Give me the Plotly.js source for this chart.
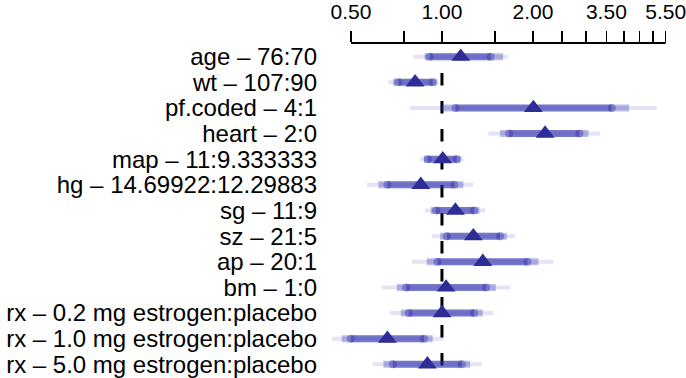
<!DOCTYPE html>
<html>
<head>
<meta charset="utf-8">
<script src="https://cdn.plot.ly/plotly-3.0.1.min.js"></script>
<style>html,body{margin:0;padding:0;background:#fff;}#chart{width:686px;height:378px;}</style>
</head>
<body>
<div id="chart"></div>
<script>
// Effect labels (top to bottom)
const labels = [
  "age – 76:70",
  "wt – 107:90",
  "pf.coded – 4:1",
  "heart – 2:0",
  "map – 11:9.333333",
  "hg – 14.69922:12.29883",
  "sg – 11:9",
  "sz – 21:5",
  "ap – 20:1",
  "bm – 1:0",
  "rx – 0.2 mg estrogen:placebo",
  "rx – 1.0 mg estrogen:placebo",
  "rx – 5.0 mg estrogen:placebo"
];
// Hazard ratio point estimates
const est  = [1.154, 0.815, 2.007, 2.194, 1.006, 0.851, 1.108, 1.270, 1.365, 1.032, 1.001, 0.660, 0.895];
// 0.90 confidence limits
const lo90 = [0.910, 0.717, 1.108, 1.668, 0.897, 0.660, 0.956, 1.037, 0.966, 0.761, 0.776, 0.499, 0.687];
const hi90 = [1.448, 0.932, 3.648, 2.850, 1.119, 1.099, 1.277, 1.557, 1.917, 1.400, 1.277, 0.872, 1.163];
// 0.95 confidence limits
const lo95 = [0.876, 0.689, 0.986, 1.557, 0.872, 0.616, 0.918, 0.986, 0.891, 0.709, 0.731, 0.466, 0.640];
const hi95 = [1.593, 0.961, 4.160, 3.052, 1.154, 1.177, 1.330, 1.639, 2.085, 1.507, 1.365, 0.932, 1.239];
// 0.99 confidence limits
const lo99 = [0.804, 0.665, 0.784, 1.424, 0.846, 0.564, 0.879, 0.925, 0.794, 0.632, 0.673, 0.433, 0.590];
const hi99 = [1.655, 0.973, 5.140, 3.337, 1.177, 1.270, 1.389, 1.746, 2.337, 1.680, 1.480, 1.011, 1.354];
// Axis ticks
const tickVals = [0.5, 0.75, 1, 1.5, 2, 2.5, 3, 3.5, 4, 4.5, 5, 5.5];
const tickText = ["0.50", "", "1.00", "", "2.00", "", "", "3.50", "", "", "", "5.50"];

const rows = labels.map((_, i) => i + 1);

function segs(lo, hi) {
  const x = [], y = [];
  lo.forEach((v, i) => { x.push(v, hi[i], null); y.push(rows[i], rows[i], null); });
  return {x, y};
}
const s99 = segs(lo99, hi99), s95 = segs(lo95, hi95), s90 = segs(lo90, hi90);
const dotX = [], dotY = [];
lo90.forEach((v, i) => { dotX.push(v, hi90[i]); dotY.push(rows[i], rows[i]); });

const base = {type: "scatter", hoverinfo: "skip", showlegend: false};
const traces = [
  Object.assign({}, base, {x: s99.x, y: s99.y, mode: "lines", line: {color: "rgba(40,40,170,0.13)", width: 4}}),
  Object.assign({}, base, {x: s95.x, y: s95.y, mode: "lines", line: {color: "rgba(40,40,170,0.31)", width: 7}}),
  Object.assign({}, base, {x: s90.x, y: s90.y, mode: "lines", line: {color: "rgba(40,40,170,0.45)", width: 7}}),
  Object.assign({}, base, {x: dotX, y: dotY, mode: "markers", marker: {symbol: "circle", size: 8, color: "rgba(40,40,170,0.38)", line: {width: 0}}}),
  Object.assign({}, base, {x: est, y: rows, mode: "markers", marker: {symbol: "triangle-up", size: 16.5, color: "#2d2d96", line: {width: 0}}})
];

const font = "Liberation Sans, Arial, Helvetica, sans-serif";
const layout = {
  width: 686, height: 378,
  margin: {l: 330, r: 0, t: 43, b: 0, pad: 0},
  paper_bgcolor: "#fff", plot_bgcolor: "#fff",
  showlegend: false,
  font: {family: font, color: "#000"},
  xaxis: {
    type: "log", side: "top",
    range: [-0.3705, 0.8076],
    tickvals: tickVals, ticktext: tickText,
    ticks: "outside", ticklen: 11, tickwidth: 1.5, tickcolor: "#000",
    ticklabelstandoff: 4, ticklabeloverflow: "allow",
    tickfont: {size: 21, family: font, color: "#000"},
    showgrid: false, zeroline: false, showline: false,
    fixedrange: true
  },
  yaxis: {
    range: [13.5345, 0.4655],
    tickvals: rows, ticktext: labels,
    ticks: "", ticklabelstandoff: 12,
    tickfont: {size: 24, family: font, color: "#000"},
    showgrid: false, zeroline: false, showline: false,
    fixedrange: true
  },
  shapes: [
    {type: "line", xref: "x", yref: "paper", x0: 0.5, x1: 5.5, y0: 1, y1: 1,
     line: {color: "#000", width: 2}},
    {type: "line", layer: "below", xref: "x", yref: "y", x0: 1, x1: 1, y0: 1.64, y1: 13.15,
     line: {color: "#000", width: 3, dash: "12.5px,15.5px"}}
  ]
};

Plotly.newPlot("chart", traces, layout, {staticPlot: true, displayModeBar: false});
</script>
</body>
</html>
